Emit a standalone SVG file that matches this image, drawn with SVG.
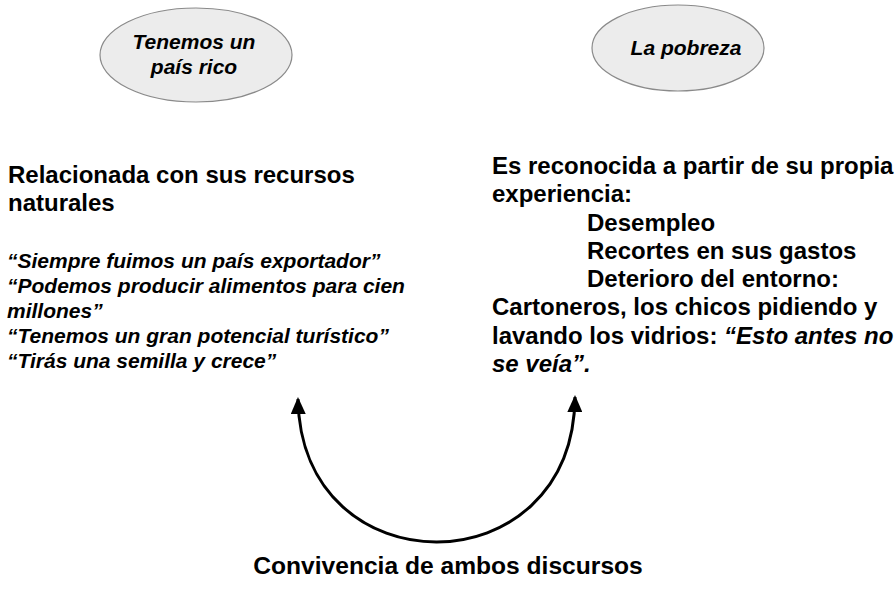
<svg xmlns="http://www.w3.org/2000/svg" width="896" height="595" viewBox="0 0 896 595">
<style>
text{font-family:"Liberation Sans",Arial,sans-serif;font-weight:bold;fill:#000}
.it{font-style:italic}
.big{font-size:24px}
.q{font-size:21px;font-style:italic}
.ell{fill:#ececec;stroke:#8a8a8a;stroke-width:1.2}
.lbl{font-size:21px;font-style:italic;text-anchor:middle}
</style>
<defs>
<marker id="ah" markerUnits="userSpaceOnUse" markerWidth="17" markerHeight="15" viewBox="0 0 17 15" refX="15" refY="7.5" orient="auto-start-reverse">
<path d="M0,0 L17,7.5 L0,15 z" fill="#000"/>
</marker>
</defs>
<rect width="896" height="595" fill="#fff"/>
<g id="node-pais-rico">
<ellipse class="ell" cx="196" cy="55" rx="96" ry="47"/>
<text class="lbl" x="194" y="49">Tenemos un</text>
<text class="lbl" x="194" y="74">país rico</text>
</g>
<g id="node-pobreza">
<ellipse class="ell" cx="678" cy="48" rx="86" ry="43"/>
<text class="lbl" x="686" y="55">La pobreza</text>
</g>
<g id="node-recursos">
<text class="big" x="8" y="183">Relacionada con sus recursos</text>
<text class="big" x="8" y="211">naturales</text>
<text class="q" x="7" y="268">“Siempre fuimos un país exportador”</text>
<text class="q" x="7" y="293">“Podemos producir alimentos para cien</text>
<text class="q" x="7" y="318">millones”</text>
<text class="q" x="7" y="343">“Tenemos un gran potencial turístico”</text>
<text class="q" x="7" y="368">“Tirás una semilla y crece”</text>
</g>
<g id="node-experiencia">
<text class="big" x="492" y="174">Es reconocida a partir de su propia</text>
<text class="big" x="492" y="202">experiencia:</text>
<text class="big" x="587" y="231">Desempleo</text>
<text class="big" x="587" y="259">Recortes en sus gastos</text>
<text class="big" x="587" y="287">Deterioro del entorno:</text>
<text class="big" x="492" y="315">Cartoneros, los chicos pidiendo y</text>
<text class="big" x="492" y="344">lavando los vidrios: <tspan class="it">“Esto antes no</tspan></text>
<text class="big it" x="492" y="372">se veía”.</text>
</g>
<g id="node-convivencia">
<text x="448" y="574" text-anchor="middle" style="font-size:24.6px">Convivencia de ambos discursos</text>
</g>
<g id="connectors">
<path d="M298,399 C301,590 573,590 575,397" fill="none" stroke="#000" stroke-width="3" marker-start="url(#ah)" marker-end="url(#ah)"/>
</g>
</svg>
